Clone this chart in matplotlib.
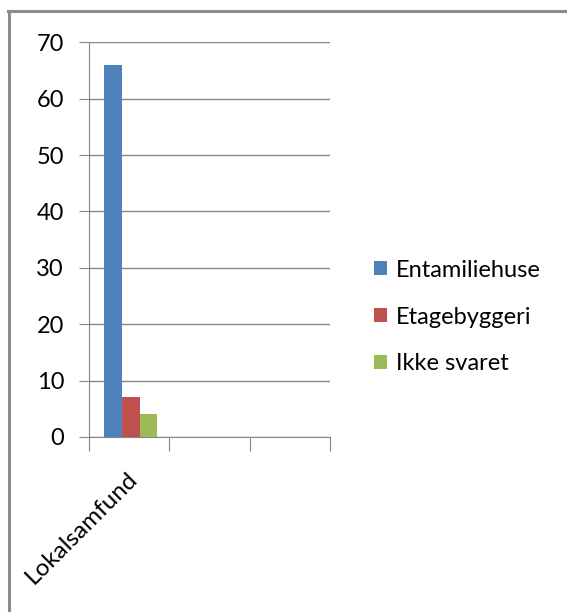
import matplotlib.pyplot as plt
import numpy as np
from matplotlib.lines import Line2D

categories = ['Lokalsamfund', '', '']
series_names = ['Entamiliehuse', 'Etagebyggeri', 'Ikke svaret']
values_entamilie = [66, 0, 0]
values_etage = [7, 0, 0]
values_ikke = [4, 0, 0]
colors = ['#4F81BD', '#C0504D', '#9BBB59']

plt.rcParams['font.family'] = ['Lato', 'DejaVu Sans']

fig = plt.figure(figsize=(5.67, 6.12), dpi=100)
ax = fig.add_axes([0.157, 0.286, 0.425, 0.645])

x = np.arange(len(categories))
w = 0.22
all_values = [values_entamilie, values_etage, values_ikke]
for i, (vals, name, col) in enumerate(zip(all_values, series_names, colors)):
    ax.bar(x + (i - 1) * w + 0.02, vals, width=w, color=col, label=name, zorder=3)

ax.set_xlim(-0.5, 2.5)
ax.set_ylim(0, 70)
ax.set_yticks(range(0, 71, 10))
ax.yaxis.grid(True, color='#868686', linewidth=1, zorder=0)

for s in ['top', 'right']:
    ax.spines[s].set_visible(False)
for s in ['left', 'bottom']:
    ax.spines[s].set_color('#868686')

ax.set_xticks(np.arange(-0.5, 2.6, 1.0), minor=False)
ax.set_xticklabels([])
ax.tick_params(axis='x', which='major', length=10, color='#868686', direction='out')
ax.tick_params(axis='y', length=7, color='#868686', labelsize=17, pad=11)

for xi, lab in zip(x, categories):
    if lab:
        ax.text(xi - 0.03, -5.5, lab, rotation=45, ha='right', va='top',
                fontsize=17.5, rotation_mode='anchor', transform=ax.transData)

fig.legend(loc='center left', bbox_to_anchor=(0.623, 0.482), frameon=False,
           fontsize=17, handlelength=0.55, handleheight=0.55, handletextpad=0.35,
           labelspacing=1.1)

fig.add_artist(Line2D([0.014, 1.0], [0.982, 0.982], color='#8c8c8c', linewidth=2.2,
                      transform=fig.transFigure))
fig.add_artist(Line2D([0.016, 0.016], [0.0, 0.982], color='#8c8c8c', linewidth=2.2,
                      transform=fig.transFigure))

fig.savefig('out.png', dpi=100)
